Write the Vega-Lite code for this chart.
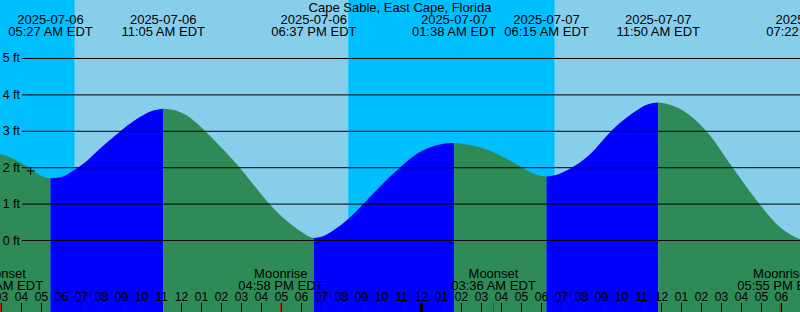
{
  "$schema": "https://vega.github.io/schema/vega-lite/v6.json",
  "width": 800,
  "height": 312,
  "padding": 0,
  "autosize": {"type": "none"},
  "background": "white",
  "config": {"view": {"stroke": null}, "font": "Liberation Sans"},
  "resolve": {"scale": {"color": "independent"}},
  "datasets": {
    "sky": [
      {"start": "2025-07-06T00:00:00", "end": "2025-07-06T06:40:00", "period": "night"},
      {"start": "2025-07-06T06:40:00", "end": "2025-07-06T20:20:00", "period": "day"},
      {"start": "2025-07-06T20:20:00", "end": "2025-07-07T06:40:00", "period": "night"},
      {"start": "2025-07-07T06:40:00", "end": "2025-07-07T20:20:00", "period": "day"}
    ],
    "tide": [
      {"t": "2025-07-06T02:30:00", "ft": 2.45, "seg": "A", "phase": "falling"},
      {"t": "2025-07-06T02:55:00", "ft": 2.38, "seg": "A", "phase": "falling"},
      {"t": "2025-07-06T03:25:00", "ft": 2.29, "seg": "A", "phase": "falling"},
      {"t": "2025-07-06T03:55:00", "ft": 2.15, "seg": "A", "phase": "falling"},
      {"t": "2025-07-06T04:25:00", "ft": 1.98, "seg": "A", "phase": "falling"},
      {"t": "2025-07-06T04:55:00", "ft": 1.80, "seg": "A", "phase": "falling"},
      {"t": "2025-07-06T05:10:00", "ft": 1.74, "seg": "A", "phase": "falling"},
      {"t": "2025-07-06T05:27:00", "ft": 1.71, "seg": "A", "phase": "falling"},

      {"t": "2025-07-06T05:27:00", "ft": 1.71, "seg": "B", "phase": "rising"},
      {"t": "2025-07-06T05:50:00", "ft": 1.73, "seg": "B", "phase": "rising"},
      {"t": "2025-07-06T06:04:00", "ft": 1.76, "seg": "B", "phase": "rising"},
      {"t": "2025-07-06T06:40:00", "ft": 1.95, "seg": "B", "phase": "rising"},
      {"t": "2025-07-06T07:15:00", "ft": 2.18, "seg": "B", "phase": "rising"},
      {"t": "2025-07-06T07:55:00", "ft": 2.52, "seg": "B", "phase": "rising"},
      {"t": "2025-07-06T08:55:00", "ft": 2.99, "seg": "B", "phase": "rising"},
      {"t": "2025-07-06T09:55:00", "ft": 3.39, "seg": "B", "phase": "rising"},
      {"t": "2025-07-06T10:35:00", "ft": 3.57, "seg": "B", "phase": "rising"},
      {"t": "2025-07-06T11:05:00", "ft": 3.62, "seg": "B", "phase": "rising"},

      {"t": "2025-07-06T11:05:00", "ft": 3.62, "seg": "C", "phase": "falling"},
      {"t": "2025-07-06T11:30:00", "ft": 3.60, "seg": "C", "phase": "falling"},
      {"t": "2025-07-06T12:15:00", "ft": 3.44, "seg": "C", "phase": "falling"},
      {"t": "2025-07-06T13:15:00", "ft": 2.97, "seg": "C", "phase": "falling"},
      {"t": "2025-07-06T14:00:00", "ft": 2.55, "seg": "C", "phase": "falling"},
      {"t": "2025-07-06T14:55:00", "ft": 2.00, "seg": "C", "phase": "falling"},
      {"t": "2025-07-06T15:40:00", "ft": 1.49, "seg": "C", "phase": "falling"},
      {"t": "2025-07-06T16:25:00", "ft": 0.99, "seg": "C", "phase": "falling"},
      {"t": "2025-07-06T17:25:00", "ft": 0.47, "seg": "C", "phase": "falling"},
      {"t": "2025-07-06T18:04:00", "ft": 0.21, "seg": "C", "phase": "falling"},
      {"t": "2025-07-06T18:20:00", "ft": 0.12, "seg": "C", "phase": "falling"},
      {"t": "2025-07-06T18:37:00", "ft": 0.07, "seg": "C", "phase": "falling"},

      {"t": "2025-07-06T18:37:00", "ft": 0.07, "seg": "D", "phase": "rising"},
      {"t": "2025-07-06T19:00:00", "ft": 0.10, "seg": "D", "phase": "rising"},
      {"t": "2025-07-06T19:34:00", "ft": 0.27, "seg": "D", "phase": "rising"},
      {"t": "2025-07-06T20:25:00", "ft": 0.63, "seg": "D", "phase": "rising"},
      {"t": "2025-07-06T21:04:00", "ft": 0.99, "seg": "D", "phase": "rising"},
      {"t": "2025-07-06T21:55:00", "ft": 1.48, "seg": "D", "phase": "rising"},
      {"t": "2025-07-06T22:55:00", "ft": 2.00, "seg": "D", "phase": "rising"},
      {"t": "2025-07-06T23:55:00", "ft": 2.43, "seg": "D", "phase": "rising"},
      {"t": "2025-07-07T00:55:00", "ft": 2.64, "seg": "D", "phase": "rising"},
      {"t": "2025-07-07T01:15:00", "ft": 2.67, "seg": "D", "phase": "rising"},
      {"t": "2025-07-07T01:38:00", "ft": 2.68, "seg": "D", "phase": "rising"},

      {"t": "2025-07-07T01:38:00", "ft": 2.68, "seg": "E", "phase": "falling"},
      {"t": "2025-07-07T02:05:00", "ft": 2.66, "seg": "E", "phase": "falling"},
      {"t": "2025-07-07T02:55:00", "ft": 2.56, "seg": "E", "phase": "falling"},
      {"t": "2025-07-07T03:55:00", "ft": 2.34, "seg": "E", "phase": "falling"},
      {"t": "2025-07-07T04:55:00", "ft": 2.04, "seg": "E", "phase": "falling"},
      {"t": "2025-07-07T05:34:00", "ft": 1.85, "seg": "E", "phase": "falling"},
      {"t": "2025-07-07T05:55:00", "ft": 1.78, "seg": "E", "phase": "falling"},
      {"t": "2025-07-07T06:15:00", "ft": 1.76, "seg": "E", "phase": "falling"},

      {"t": "2025-07-07T06:15:00", "ft": 1.76, "seg": "F", "phase": "rising"},
      {"t": "2025-07-07T06:40:00", "ft": 1.79, "seg": "F", "phase": "rising"},
      {"t": "2025-07-07T07:25:00", "ft": 1.97, "seg": "F", "phase": "rising"},
      {"t": "2025-07-07T08:25:00", "ft": 2.36, "seg": "F", "phase": "rising"},
      {"t": "2025-07-07T09:25:00", "ft": 2.97, "seg": "F", "phase": "rising"},
      {"t": "2025-07-07T10:34:00", "ft": 3.50, "seg": "F", "phase": "rising"},
      {"t": "2025-07-07T11:20:00", "ft": 3.74, "seg": "F", "phase": "rising"},
      {"t": "2025-07-07T11:50:00", "ft": 3.79, "seg": "F", "phase": "rising"},

      {"t": "2025-07-07T11:50:00", "ft": 3.79, "seg": "G", "phase": "falling"},
      {"t": "2025-07-07T12:15:00", "ft": 3.76, "seg": "G", "phase": "falling"},
      {"t": "2025-07-07T13:04:00", "ft": 3.57, "seg": "G", "phase": "falling"},
      {"t": "2025-07-07T14:16:00", "ft": 2.99, "seg": "G", "phase": "falling"},
      {"t": "2025-07-07T15:34:00", "ft": 2.00, "seg": "G", "phase": "falling"},
      {"t": "2025-07-07T16:55:00", "ft": 0.99, "seg": "G", "phase": "falling"},
      {"t": "2025-07-07T17:55:00", "ft": 0.37, "seg": "G", "phase": "falling"},
      {"t": "2025-07-07T18:55:00", "ft": 0.04, "seg": "G", "phase": "falling"},
      {"t": "2025-07-07T19:22:00", "ft": -0.01, "seg": "G", "phase": "falling"}
    ],
    "levels": [
      {"ft": 0, "label": "0 ft"}, {"ft": 1, "label": "1 ft"}, {"ft": 2, "label": "2 ft"},
      {"ft": 3, "label": "3 ft"}, {"ft": 4, "label": "4 ft"}, {"ft": 5, "label": "5 ft"}
    ],
    "hours": [
      {"t": "2025-07-06T03:00:00", "label": "03"}, {"t": "2025-07-06T04:00:00", "label": "04"},
      {"t": "2025-07-06T05:00:00", "label": "05"}, {"t": "2025-07-06T06:00:00", "label": "06"},
      {"t": "2025-07-06T07:00:00", "label": "07"}, {"t": "2025-07-06T08:00:00", "label": "08"},
      {"t": "2025-07-06T09:00:00", "label": "09"}, {"t": "2025-07-06T10:00:00", "label": "10"},
      {"t": "2025-07-06T11:00:00", "label": "11"}, {"t": "2025-07-06T12:00:00", "label": "12"},
      {"t": "2025-07-06T13:00:00", "label": "01"}, {"t": "2025-07-06T14:00:00", "label": "02"},
      {"t": "2025-07-06T15:00:00", "label": "03"}, {"t": "2025-07-06T16:00:00", "label": "04"},
      {"t": "2025-07-06T17:00:00", "label": "05"}, {"t": "2025-07-06T18:00:00", "label": "06"},
      {"t": "2025-07-06T19:00:00", "label": "07"}, {"t": "2025-07-06T20:00:00", "label": "08"},
      {"t": "2025-07-06T21:00:00", "label": "09"}, {"t": "2025-07-06T22:00:00", "label": "10"},
      {"t": "2025-07-06T23:00:00", "label": "11"}, {"t": "2025-07-07T00:00:00", "label": "12"},
      {"t": "2025-07-07T01:00:00", "label": "01"}, {"t": "2025-07-07T02:00:00", "label": "02"},
      {"t": "2025-07-07T03:00:00", "label": "03"}, {"t": "2025-07-07T04:00:00", "label": "04"},
      {"t": "2025-07-07T05:00:00", "label": "05"}, {"t": "2025-07-07T06:00:00", "label": "06"},
      {"t": "2025-07-07T07:00:00", "label": "07"}, {"t": "2025-07-07T08:00:00", "label": "08"},
      {"t": "2025-07-07T09:00:00", "label": "09"}, {"t": "2025-07-07T10:00:00", "label": "10"},
      {"t": "2025-07-07T11:00:00", "label": "11"}, {"t": "2025-07-07T12:00:00", "label": "12"},
      {"t": "2025-07-07T13:00:00", "label": "01"}, {"t": "2025-07-07T14:00:00", "label": "02"},
      {"t": "2025-07-07T15:00:00", "label": "03"}, {"t": "2025-07-07T16:00:00", "label": "04"},
      {"t": "2025-07-07T17:00:00", "label": "05"}, {"t": "2025-07-07T18:00:00", "label": "06"}
    ],
    "events": [
      {"t": "2025-07-06T05:27:00", "date": "2025-07-06", "time": "05:27 AM EDT"},
      {"t": "2025-07-06T11:05:00", "date": "2025-07-06", "time": "11:05 AM EDT"},
      {"t": "2025-07-06T18:37:00", "date": "2025-07-06", "time": "06:37 PM EDT"},
      {"t": "2025-07-07T01:38:00", "date": "2025-07-07", "time": "01:38 AM EDT"},
      {"t": "2025-07-07T06:15:00", "date": "2025-07-07", "time": "06:15 AM EDT"},
      {"t": "2025-07-07T11:50:00", "date": "2025-07-07", "time": "11:50 AM EDT"},
      {"t": "2025-07-07T19:22:00", "date": "2025-07-07", "time": "07:22 PM EDT"}
    ],
    "moon": [
      {"t": "2025-07-06T02:58:00", "event": "Moonset", "time": "02:58 AM EDT"},
      {"t": "2025-07-06T16:58:00", "event": "Moonrise", "time": "04:58 PM EDT"},
      {"t": "2025-07-07T03:36:00", "event": "Moonset", "time": "03:36 AM EDT"},
      {"t": "2025-07-07T17:55:00", "event": "Moonrise", "time": "05:55 PM EDT"}
    ],
    "midnight": [{"t": "2025-07-07T00:00:00"}],
    "now": [{"t": "2025-07-06T04:27:30", "ft": 1.91}],
    "title": [{"t": "2025-07-06T22:55:30", "label": "Cape Sable, East Cape, Florida"}]
  },
  "layer": [
    {
      "data": {"name": "sky"},
      "mark": {"type": "rect", "clip": true},
      "encoding": {
        "x": {
          "field": "start", "type": "temporal", "axis": null,
          "scale": {
            "domain": [
              {"year": 2025, "month": 7, "date": 6, "hours": 2, "minutes": 55, "seconds": 30},
              {"year": 2025, "month": 7, "date": 7, "hours": 18, "minutes": 55, "seconds": 30}
            ],
            "nice": false
          }
        },
        "x2": {"field": "end"},
        "y": {
          "datum": 6.607, "type": "quantitative", "axis": null,
          "scale": {"domain": [-1.964, 6.607], "nice": false, "zero": false}
        },
        "y2": {"datum": -1.964},
        "color": {
          "field": "period", "type": "nominal", "legend": null,
          "scale": {"domain": ["night", "day"], "range": ["#00BFFF", "#87CEEB"]}
        }
      }
    },
    {
      "data": {"name": "tide"},
      "mark": {"type": "area", "interpolate": "monotone", "clip": true},
      "encoding": {
        "x": {"field": "t", "type": "temporal", "axis": null},
        "y": {"field": "ft", "type": "quantitative", "stack": null, "axis": null},
        "y2": {"datum": -1.964},
        "detail": {"field": "seg"},
        "color": {
          "field": "phase", "type": "nominal", "legend": null,
          "scale": {"domain": ["rising", "falling"], "range": ["#0000FF", "#2E8B57"]}
        }
      }
    },
    {
      "data": {"name": "levels"},
      "mark": {"type": "rule", "color": "black", "strokeWidth": 1, "clip": true},
      "encoding": {
        "y": {"field": "ft", "type": "quantitative", "axis": null},
        "x": {"datum": {"year": 2025, "month": 7, "date": 6, "hours": 4, "minutes": 1, "seconds": 30}, "type": "temporal", "axis": null},
        "x2": {"datum": {"year": 2025, "month": 7, "date": 7, "hours": 20}}
      }
    },
    {
      "data": {"name": "levels"},
      "mark": {"type": "text", "fontSize": 12.5, "align": "right", "baseline": "middle", "color": "black"},
      "encoding": {
        "y": {"field": "ft", "type": "quantitative", "axis": null},
        "x": {"datum": {"year": 2025, "month": 7, "date": 6, "hours": 3, "minutes": 55, "seconds": 30}, "type": "temporal", "axis": null},
        "text": {"field": "label", "type": "nominal"}
      }
    },
    {
      "data": {"name": "hours"},
      "mark": {"type": "rule", "color": "black", "strokeWidth": 1},
      "encoding": {
        "x": {"field": "t", "type": "temporal", "axis": null},
        "y": {"datum": -1.717, "axis": null},
        "y2": {"datum": -1.964}
      }
    },
    {
      "data": {"name": "hours"},
      "mark": {"type": "text", "fontSize": 12, "align": "center", "baseline": "alphabetic", "color": "black"},
      "encoding": {
        "x": {"field": "t", "type": "temporal", "axis": null},
        "y": {"datum": -1.662, "axis": null},
        "text": {"field": "label", "type": "nominal"}
      }
    },
    {
      "data": {"name": "moon"},
      "mark": {"type": "rule", "color": "#FF0000", "strokeWidth": 1},
      "encoding": {
        "x": {"field": "t", "type": "temporal", "axis": null},
        "y": {"datum": -1.717, "axis": null},
        "y2": {"datum": -1.964}
      }
    },
    {
      "data": {"name": "midnight"},
      "mark": {"type": "rule", "color": "black", "strokeWidth": 3},
      "encoding": {
        "x": {"field": "t", "type": "temporal", "axis": null},
        "y": {"datum": -1.717, "axis": null},
        "y2": {"datum": -1.964}
      }
    },
    {
      "data": {"name": "now"},
      "mark": {"type": "point", "shape": "M-1,0L1,0M0,-1L0,1", "size": 64, "filled": false, "stroke": "black", "strokeWidth": 1, "opacity": 1},
      "encoding": {
        "x": {"field": "t", "type": "temporal", "axis": null},
        "y": {"field": "ft", "type": "quantitative", "axis": null}
      }
    },
    {
      "data": {"name": "title"},
      "mark": {"type": "text", "fontSize": 13, "align": "center", "baseline": "alphabetic", "color": "black"},
      "encoding": {
        "x": {"field": "t", "type": "temporal", "axis": null},
        "y": {"datum": 6.286, "axis": null},
        "text": {"field": "label", "type": "nominal"}
      }
    },
    {
      "data": {"name": "events"},
      "mark": {"type": "text", "fontSize": 13, "align": "center", "baseline": "alphabetic", "color": "black"},
      "encoding": {
        "x": {"field": "t", "type": "temporal", "axis": null},
        "y": {"datum": 5.948, "axis": null},
        "text": {"field": "date", "type": "nominal"}
      }
    },
    {
      "data": {"name": "events"},
      "mark": {"type": "text", "fontSize": 13, "align": "center", "baseline": "alphabetic", "color": "black"},
      "encoding": {
        "x": {"field": "t", "type": "temporal", "axis": null},
        "y": {"datum": 5.618, "axis": null},
        "text": {"field": "time", "type": "nominal"}
      }
    },
    {
      "data": {"name": "moon"},
      "mark": {"type": "text", "fontSize": 13, "align": "center", "baseline": "alphabetic", "color": "black"},
      "encoding": {
        "x": {"field": "t", "type": "temporal", "axis": null},
        "y": {"datum": -1.022, "axis": null},
        "text": {"field": "event", "type": "nominal"}
      }
    },
    {
      "data": {"name": "moon"},
      "mark": {"type": "text", "fontSize": 13, "align": "center", "baseline": "alphabetic", "color": "black"},
      "encoding": {
        "x": {"field": "t", "type": "temporal", "axis": null},
        "y": {"datum": -1.354, "axis": null},
        "text": {"field": "time", "type": "nominal"}
      }
    }
  ]
}
